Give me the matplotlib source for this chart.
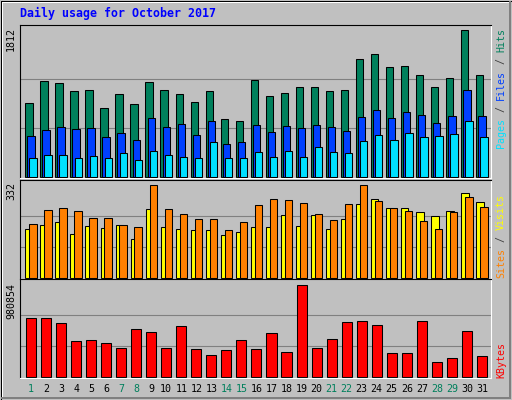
import numpy as np
import matplotlib.pyplot as plt
from matplotlib.lines import Line2D

# === DATOS ===
days = list(range(1, 32))
weekend_days = [1, 7, 8, 14, 15, 21, 22, 28, 29]

hits = [914, 1185, 1160, 1062, 1074, 853, 1025, 902, 1173, 1074, 1025, 927, 1062, 717, 693, 1197,
        1000, 1037, 1111, 1111, 1062, 1074, 1455, 1505, 1357, 1369, 1259, 1111, 1222, 1812, 1259]
files = [508, 582, 619, 595, 607, 496, 545, 459, 730, 619, 656, 521, 693, 410, 435, 644,
         558, 631, 607, 644, 619, 570, 742, 828, 730, 804, 767, 668, 754, 1074, 754]
pages = [238, 275, 275, 238, 262, 238, 299, 213, 324, 275, 250, 238, 435, 238, 238, 312,
         250, 324, 250, 373, 312, 299, 447, 521, 459, 545, 496, 508, 533, 693, 496]

visits = [173, 187, 198, 155, 183, 176, 187, 140, 245, 180, 173, 169, 169, 151, 162, 180,
          180, 223, 183, 223, 173, 209, 263, 281, 249, 249, 234, 220, 238, 303, 270]
sites = [191, 241, 249, 238, 212, 212, 187, 180, 332, 245, 227, 209, 209, 169, 198, 260,
         281, 278, 267, 227, 205, 263, 332, 274, 249, 238, 202, 173, 234, 288, 252]

kbytes = [626000, 626000, 573000, 379000, 390000, 358000, 304000, 508000, 476000, 304000, 541000,
          294000, 229000, 283000, 390000, 294000, 465000, 261000, 980854, 304000, 401000, 584000,
          594000, 551000, 251000, 251000, 594000, 154000, 197000, 487000, 218000]

BG = '#C0C0C0'
W, H = 512, 400
MONO = 'DejaVu Sans Mono'

fig = plt.figure(figsize=(W / 100, H / 100), dpi=100, facecolor=BG)

# marco exterior con relieve
def px_line(x0, y0, x1, y1, color, lw=1.0):
    fig.add_artist(Line2D([x0 / W, x1 / W], [1 - y0 / H, 1 - y1 / H],
                          color=color, lw=lw * 0.72, transform=fig.transFigure))

px_line(0.5, 0.5, W - 0.5, 0.5, 'black')
px_line(0.5, 0.5, 0.5, H - 0.5, 'black')
px_line(W - 0.5, 0.5, W - 0.5, H - 0.5, 'black')
px_line(0.5, H - 0.5, W - 0.5, H - 0.5, 'black')
px_line(1.5, 1.5, W - 2, 1.5, 'white')
px_line(1.5, 1.5, 1.5, H - 2, 'white')
px_line(W - 2, 1.5, W - 2, H - 2, '#808080', 2)
px_line(1.5, H - 2, W - 2, H - 2, '#808080', 2)

fig.text(20 / W, 1 - 13 / H, 'Daily usage for October 2017', color='#0000FF',
         fontsize=8.4, fontweight='bold', family=MONO, va='center', ha='left')

x = np.arange(len(days))
XL = ((20 - 31) / 15.03, (491 - 31) / 15.03)


def make_ax(top, bottom):
    ax = fig.add_axes([20 / W, 1 - bottom / H, 471 / W, (bottom - top) / H])
    ax.set_facecolor(BG)
    ax.set_xlim(*XL)
    ax.set_xticks([])
    ax.set_yticks([])
    for s in ('left', 'top'):
        ax.spines[s].set_color('black')
    for s in ('right', 'bottom'):
        ax.spines[s].set_color('white')
    for s in ax.spines.values():
        s.set_linewidth(0.8)
    return ax


def setup_y(ax, vmax, top_px, bot_px, bar_top_px):
    # base de las barras ~1 px sobre el borde inferior
    span = vmax / (bot_px - 1 - bar_top_px)
    ax.set_ylim(-1 * span, vmax + (bar_top_px - top_px) * span)
    for f in (1 / 3, 2 / 3):
        ax.axhline(vmax * f, color='#808080', lw=0.8, zorder=0)


edge = dict(edgecolor='black', linewidth=0.75)

# === PANEL 1: Hits / Files / Pages ===
ax1 = make_ax(25, 178)
setup_y(ax1, max(hits), 25, 178, 29.5)
ax1.bar(x - 0.14, hits, 0.49, color='#00805C', **edge, zorder=2)
ax1.bar(x, files, 0.49, color='#0040FF', **edge, zorder=3)
ax1.bar(x + 0.14, pages, 0.49, color='#00E0FF', **edge, zorder=4)

# === PANEL 2: Visits / Sites ===
ax2 = make_ax(180, 279)
setup_y(ax2, max(sites), 180, 279, 184.5)
ax2.bar(x - 0.13, visits, 0.49, color='#FFFF00', **edge, zorder=2)
ax2.bar(x + 0.13, sites, 0.49, color='#FF8000', **edge, zorder=3)

# === PANEL 3: KBytes ===
ax3 = make_ax(279, 378)
setup_y(ax3, max(kbytes), 279, 378, 284.5)
ax3.bar(x, kbytes, 0.67, color='#FF0000', **edge, zorder=2)

# etiquetas eje y (valor máximo)
for lab, ytop in ((f'{max(hits)}', 27), (f'{max(sites)}', 182), (f'{max(kbytes)}', 283)):
    fig.text(11 / W, 1 - ytop / H, lab, rotation=90, fontsize=7.2, family=MONO,
             va='top', ha='center', color='black')

# etiquetas de la derecha, multicolor
CH = 6.0  # px por carácter


def stacked(parts, x_px, y_px, anchor):
    total = sum(len(t) for t, _ in parts)
    # parts listed de arriba hacia abajo
    y = y_px if anchor == 'top' else y_px - total * CH
    for t, c in parts:
        fig.text(x_px / W, 1 - y / H, t, rotation=90, fontsize=7.2, family=MONO,
                 color=c, va='top', ha='center')
        y += len(t) * CH


stacked([('Hits', '#00805C'), (' / ', '#404040'), ('Files', '#0040FF'),
         (' / ', '#404040'), ('Pages', '#00E0FF')], 501, 28, 'top')
stacked([('Visits', '#FFFF00'), (' / ', '#404040'), ('Sites', '#FF8000')], 501, 278, 'bottom')
stacked([('KBytes', '#FF0000')], 501, 378, 'bottom')

# días
for i, d in enumerate(days):
    xp = (31 + 15.03 * i) / W
    fig.text(xp, 1 - 389 / H, str(d), fontsize=7.2, family=MONO, ha='center', va='center',
             color='#00805C' if d in weekend_days else 'black')

plt.savefig('out.png', dpi=100, facecolor=BG)
plt.close()
